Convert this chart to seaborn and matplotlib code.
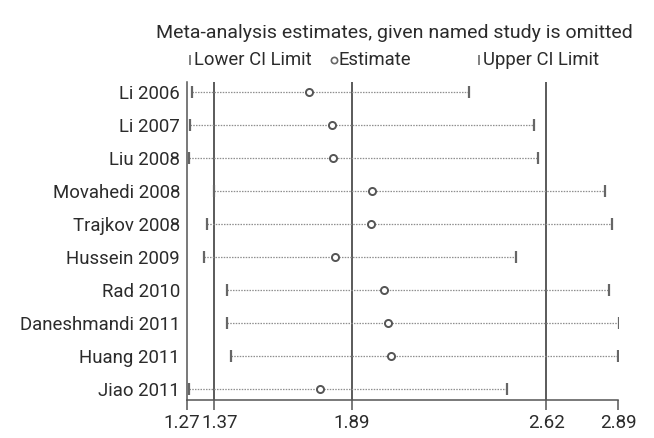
import matplotlib
matplotlib.use("Agg")
import matplotlib.pyplot as plt
import matplotlib.transforms as mtransforms
import seaborn as sns
import pandas as pd
import numpy as np
from matplotlib.lines import Line2D

studies = ["Li 2006", "Li 2007", "Liu 2008", "Movahedi 2008", "Trajkov 2008",
           "Hussein 2009", "Rad 2010", "Daneshmandi 2011", "Huang 2011", "Jiao 2011"]
lower = [1.289, 1.282, 1.278, 1.371, 1.344, 1.335, 1.419, 1.420, 1.435, 1.278]
estimate = [1.730, 1.815, 1.818, 1.967, 1.961, 1.828, 2.011, 2.026, 2.036, 1.770]
upper = [2.330, 2.575, 2.588, 2.843, 2.869, 2.508, 2.858, 2.893, 2.890, 2.472]
ref_lines = [1.37, 1.89, 2.62]
xticks = [1.27, 1.37, 1.89, 2.62, 2.89]
xtick_labels = ["1.27", "1.37", "1.89", "2.62", "2.89"]

df = pd.DataFrame({"study": studies, "pos": np.arange(len(studies)),
                   "lower": lower, "estimate": estimate, "upper": upper})

sns.set_theme(style="white")
plt.rcParams["font.family"] = ["Roboto", "DejaVu Sans"]
txt = "#2b2b2b"

fig = plt.figure(figsize=(6.54, 4.38), dpi=100)
ax = fig.add_axes([187/654, 1 - 400/438, (618 - 187)/654, (400 - 82)/438])

for x in ref_lines:
    ax.axvline(x, color="#4d4d4d", lw=1.3, zorder=1)

ax.hlines(df["pos"], df["lower"], df["upper"], color="#8f8f8f", lw=0.9,
          linestyles=(0, (1.2, 1.0)), zorder=2)
sns.scatterplot(data=df, x="lower", y="pos", marker="|", s=70, color="#666666",
                linewidth=1.6, ax=ax, zorder=3, legend=False)
sns.scatterplot(data=df, x="upper", y="pos", marker="|", s=70, color="#666666",
                linewidth=1.6, ax=ax, zorder=3, legend=False)
sns.scatterplot(data=df, x="estimate", y="pos", marker="o", s=26, facecolor="white",
                edgecolor="#555555", linewidth=1.4, ax=ax, zorder=4, legend=False)

ax.set_xlim(1.27, 2.89)
ax.set_ylim(len(studies) - 1 + 0.33, -0.3)
ax.set_yticks(df["pos"])
ax.set_yticklabels(studies, fontsize=13.4, color=txt)
ax.set_xticks(xticks)
ax.set_xticklabels(xtick_labels, fontsize=13.5, color=txt)
ax.tick_params(axis="y", length=0, pad=5)
ax.tick_params(axis="x", length=7, width=1.1, color="#555555", pad=3, direction="out", bottom=True)
ax.set_xlabel("")
ax.set_ylabel("")
for s in ["top", "right"]:
    ax.spines[s].set_visible(False)
for s in ["left", "bottom"]:
    ax.spines[s].set_color("#555555")
    ax.spines[s].set_linewidth(1.1)

# nudge the two crowded left tick labels apart
xl = ax.get_xticklabels()
xl[0].set_transform(xl[0].get_transform() + mtransforms.ScaledTranslation(-5/100, 0, fig.dpi_scale_trans))
xl[1].set_transform(xl[1].get_transform() + mtransforms.ScaledTranslation(6/100, 0, fig.dpi_scale_trans))

fig.text(394/654, 1 - 33/438, "Meta-analysis estimates, given named study is omitted",
         ha="center", va="center", fontsize=14.0, color=txt)

leg_y = 1 - 60/438
items = [(190, "|", "Lower CI Limit"), (334, "o", "Estimate"), (479, "|", "Upper CI Limit")]
for px, mk, label in items:
    if mk == "o":
        fig.add_artist(Line2D([px/654], [leg_y], marker="o", markersize=4.5, mfc="white",
                              mec="#666666", mew=1.2, transform=fig.transFigure))
    else:
        fig.add_artist(Line2D([px/654], [leg_y], marker="|", markersize=7,
                              mec="#777777", mew=1.3, transform=fig.transFigure))
    fig.text((px + 4)/654, leg_y, label, ha="left", va="center", fontsize=13.3, color=txt)

fig.savefig("out.png", dpi=100)
